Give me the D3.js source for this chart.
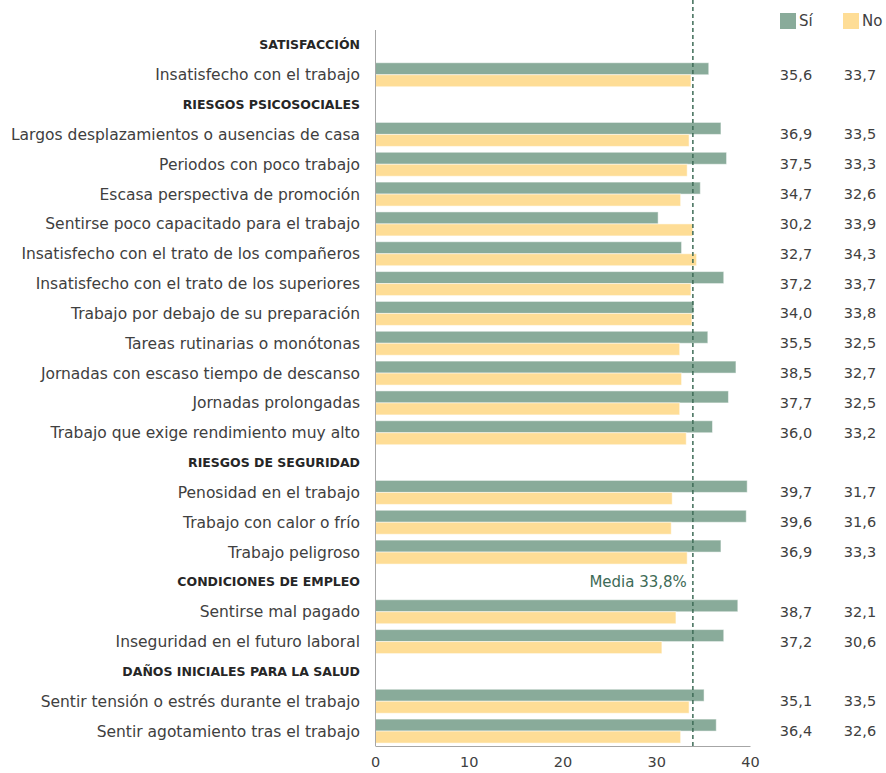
<!DOCTYPE html>
<html>
<head>
<meta charset="utf-8">
<script src="https://cdn.jsdelivr.net/npm/d3@7"></script>
<style>
  body { margin: 0; background: #fff; }
  svg { display: block; font-family: 'DejaVu Sans', sans-serif; }
</style>
</head>
<body>
<svg id="chart" width="886" height="773"></svg>
<script>
// categories / groups
const groups = ['SATISFACCIÓN', 'RIESGOS PSICOSOCIALES', 'RIESGOS DE SEGURIDAD',
  'CONDICIONES DE EMPLEO', 'DAÑOS INICIALES PARA LA SALUD']
const items = [
  'Insatisfecho con el trabajo',
  'Largos desplazamientos o ausencias de casa',
  'Periodos con poco trabajo',
  'Escasa perspectiva de promoción',
  'Sentirse poco capacitado para el trabajo',
  'Insatisfecho con el trato de los compañeros',
  'Insatisfecho con el trato de los superiores',
  'Trabajo por debajo de su preparación',
  'Tareas rutinarias o monótonas',
  'Jornadas con escaso tiempo de descanso',
  'Jornadas prolongadas',
  'Trabajo que exige rendimiento muy alto',
  'Penosidad en el trabajo',
  'Trabajo con calor o frío',
  'Trabajo peligroso',
  'Sentirse mal pagado',
  'Inseguridad en el futuro laboral',
  'Sentir tensión o estrés durante el trabajo',
  'Sentir agotamiento tras el trabajo'
]
const itemGroup = [0, 1, 1, 1, 1, 1, 1, 1, 1, 1, 1, 1, 2, 2, 2, 3, 3, 4, 4]
const siValues = [35.6, 36.9, 37.5, 34.7, 30.2, 32.7, 37.2, 34.0, 35.5, 38.5, 37.7, 36.0, 39.7, 39.6, 36.9, 38.7, 37.2, 35.1, 36.4]
const noValues = [33.7, 33.5, 33.3, 32.6, 33.9, 34.3, 33.7, 33.8, 32.5, 32.7, 32.5, 33.2, 31.7, 31.6, 33.3, 32.1, 30.6, 33.5, 32.6]
const series = ['Sí', 'No']
const media = 33.8
const xTicks = [0, 10, 20, 30, 40]

const colors = { 'Sí': '#89ab9a', 'No': '#fedd96' }
const textColor = '#404040'
const fmt = v => v.toFixed(1).replace('.', ',')

// build row list: header rows + item rows
let rows = []
let lastGroup = -1
items.forEach(function (name, i) {
  if (itemGroup[i] !== lastGroup) {
    lastGroup = itemGroup[i]
    rows.push({ header: true, label: groups[lastGroup] })
  }
  rows.push({ header: false, label: name, si: siValues[i], no: noValues[i] })
})
rows.forEach((r, i) => { r.idx = i })

const svg = d3.select('#chart')
const plotLeft = 375
const plotTop = 30
const plotBottom = 746

let x = d3.scaleLinear().domain([0, 40]).range([plotLeft, 750])
let y = d3.scaleBand().domain(rows.map(r => r.idx)).range([plotTop, plotBottom]).padding(0)
let ySub = d3.scaleBand().domain(series).range([0, 24])
const off = (y.bandwidth() - 24) / 2

let dataRows = rows.filter(r => !r.header)

// bars
let barG = svg.append('g').attr('class', 'bars')
series.forEach(function (s) {
  barG.append('g').selectAll('rect')
    .data(dataRows)
    .enter().append('rect')
    .attr('x', x(0))
    .attr('y', d => y(d.idx) + off + ySub(s))
    .attr('width', d => x(s === 'Sí' ? d.si : d.no) - x(0))
    .attr('height', ySub.bandwidth())
    .attr('fill', colors[s])
    .attr('stroke', '#ffffff')
    .attr('stroke-opacity', 0.5)
    .attr('stroke-width', 1)
})

// left axis line
svg.append('line')
  .attr('x1', plotLeft + 0.5).attr('x2', plotLeft + 0.5)
  .attr('y1', plotTop).attr('y2', plotBottom)
  .attr('stroke', '#a6a6a6')

// bottom axis
let xAxis = svg.append('g')
  .attr('transform', 'translate(0,' + plotBottom + ')')
  .call(d3.axisBottom(x).tickValues(xTicks).tickSize(0).tickPadding(11).tickFormat(d3.format('d')))
xAxis.select('.domain').attr('stroke', '#a6a6a6')
xAxis.selectAll('text')
  .attr('fill', textColor)
  .style('font-size', '14.5px')
  .style('font-family', "'DejaVu Sans', sans-serif")

// mean line
svg.append('line')
  .attr('x1', x(media) + 1).attr('x2', x(media) + 1)
  .attr('y1', 0).attr('y2', plotBottom)
  .attr('stroke', '#3e6b57')
  .attr('stroke-width', 1.5)
  .attr('stroke-dasharray', '4,3')

svg.append('text')
  .attr('x', x(media) - 5)
  .attr('y', y(rows.findIndex(r => r.label === 'CONDICIONES DE EMPLEO')) + y.bandwidth() / 2)
  .attr('dy', '0.35em')
  .attr('text-anchor', 'end')
  .attr('fill', '#3e6b57')
  .style('font-size', '15px')
  .text('Media ' + fmt(media) + '%')

// row labels
svg.append('g').selectAll('text')
  .data(rows)
  .enter().append('text')
  .attr('x', 360)
  .attr('y', d => y(d.idx) + y.bandwidth() / 2)
  .attr('dy', '0.35em')
  .attr('text-anchor', 'end')
  .attr('fill', d => d.header ? '#262626' : textColor)
  .style('font-size', d => d.header ? '12.5px' : '15.5px')
  .style('font-weight', d => d.header ? 'bold' : 'normal')
  .text(d => d.label)

// value columns
const colX = { 'Sí': 796, 'No': 860 }
series.forEach(function (s) {
  svg.append('g').selectAll('text')
    .data(dataRows)
    .enter().append('text')
    .attr('x', colX[s])
    .attr('y', d => y(d.idx) + y.bandwidth() / 2)
    .attr('dy', '0.35em')
    .attr('text-anchor', 'middle')
    .attr('fill', textColor)
    .style('font-size', '14.5px')
    .text(d => fmt(s === 'Sí' ? d.si : d.no))
})

// legend
const legX = { 'Sí': 780, 'No': 843 }
let leg = svg.append('g').selectAll('g')
  .data(series)
  .enter().append('g')
  .attr('transform', d => 'translate(' + legX[d] + ',13)')
leg.append('rect')
  .attr('width', 16).attr('height', 16)
  .attr('fill', d => colors[d])
leg.append('text')
  .attr('x', 19).attr('y', 8)
  .attr('dy', '0.35em')
  .attr('fill', textColor)
  .style('font-size', '15px')
  .text(d => d)
</script>
</body>
</html>
